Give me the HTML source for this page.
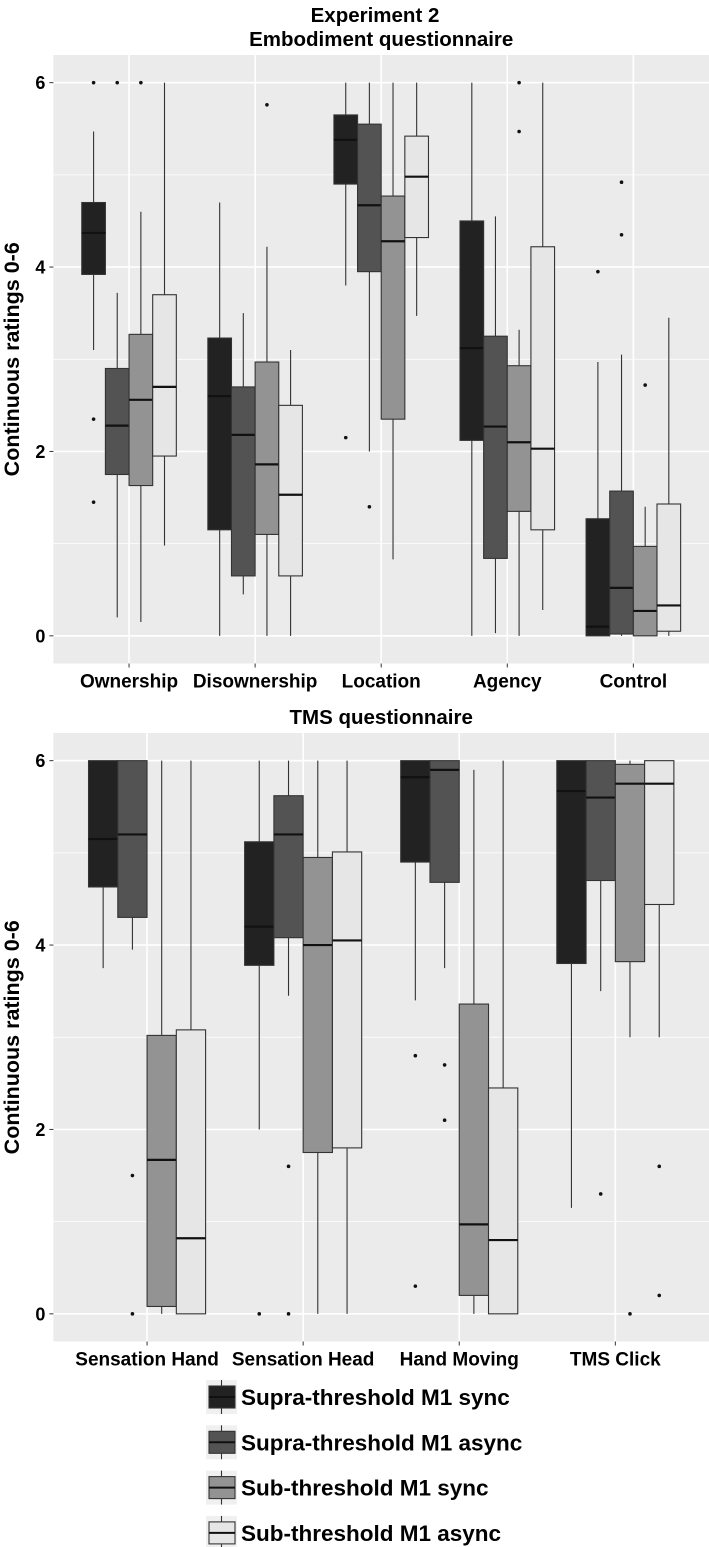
<!DOCTYPE html>
<html><head><meta charset="utf-8"><style>
html,body{margin:0;padding:0;background:#fff;}
svg{display:block;font-family:"Liberation Sans",Arial,sans-serif;font-weight:bold;}
</style></head><body>
<svg id="chart" width="709" height="1547" viewBox="0 0 709 1547" xmlns="http://www.w3.org/2000/svg">
<text x="375" y="22" text-anchor="middle" font-size="20.5">Experiment 2</text>
</svg>
<script>
const groups = ["Supra-threshold M1 sync","Supra-threshold M1 async","Sub-threshold M1 sync","Sub-threshold M1 async"];
const fills = ["#222222","#535353","#939393","#e6e6e6"];
const yTicks = [0,2,4,6];
const embCategories = ["Ownership","Disownership","Location","Agency","Control"];
// each box: [whiskerLow, q1, median, q3, whiskerHigh]
const embSupraSync  = [[3.1,3.92,4.37,4.7,5.47],[0,1.15,2.6,3.23,4.7],[3.8,4.9,5.38,5.65,6],[0,2.12,3.12,4.5,6],[0,0,0.1,1.27,2.97]];
const embSupraAsync = [[0.2,1.75,2.28,2.9,3.72],[0.45,0.65,2.18,2.7,3.5],[2.0,3.95,4.67,5.55,6],[0.03,0.84,2.27,3.25,4.55],[0,0.02,0.52,1.57,3.05]];
const embSubSync    = [[0.15,1.63,2.56,3.27,4.6],[0,1.1,1.86,2.97,4.22],[0.83,2.35,4.28,4.77,6],[0,1.35,2.1,2.93,3.32],[0,0,0.27,0.97,1.4]];
const embSubAsync   = [[0.98,1.95,2.7,3.7,6],[0,0.65,1.53,2.5,3.1],[3.47,4.32,4.98,5.42,6],[0.28,1.15,2.03,4.22,6],[0,0.05,0.33,1.43,3.45]];
const embOutSupraSync  = [[6,2.35,1.45],[],[2.15],[],[3.95]];
const embOutSupraAsync = [[6],[],[1.4],[],[4.92,4.35]];
const embOutSubSync    = [[6],[5.76],[],[6,5.47],[2.72]];
const embOutSubAsync   = [[],[],[],[],[]];
const tmsCategories = ["Sensation Hand","Sensation Head","Hand Moving","TMS Click"];
const tmsSupraSync  = [[3.75,4.63,5.15,6,6],[2.0,3.78,4.2,5.12,6],[3.4,4.9,5.82,6,6],[1.15,3.8,5.67,6,6]];
const tmsSupraAsync = [[3.95,4.3,5.2,6,6],[3.45,4.08,5.2,5.62,6],[3.75,4.68,5.9,6,6],[3.5,4.7,5.6,6,6]];
const tmsSubSync    = [[0,0.08,1.67,3.02,6],[0,1.75,4.0,4.95,6],[0,0.2,0.97,3.36,5.9],[3.0,3.82,5.75,5.96,6]];
const tmsSubAsync   = [[0,0,0.82,3.08,6],[0,1.8,4.05,5.01,6],[0,0,0.8,2.45,6],[3.0,4.44,5.75,6,6]];
const tmsOutSupraSync  = [[],[0],[2.8,0.3],[]];
const tmsOutSupraAsync = [[1.5,0],[1.6,0],[2.7,2.1],[1.3]];
const tmsOutSubSync    = [[],[],[],[0]];
const tmsOutSubAsync   = [[],[],[],[1.6,0.2]];

const NS="http://www.w3.org/2000/svg";
const svg=document.getElementById('chart');
function mk(tag,attrs,parent){const e=document.createElementNS(NS,tag);for(const k in attrs)e.setAttribute(k,attrs[k]);(parent||svg).appendChild(e);return e;}

function panel(opt){
  const {name,title,top,bottom,left,right,cats,series,outs}=opt;
  const g=mk('g',{});
  
  
  const n=cats.length;
  const step=(right-left)/(n+0.2);
  const xPos=i=>left+step*(0.6+i);
  const y0=bottom-(bottom-top)*0.3/6.6, y6=top+(bottom-top)*0.3/6.6;
  const yPos=v=>y0-(y0-y6)*v/6;
  const t=mk('text',{x:(left+right)/2,y:top-9,'text-anchor':'middle','font-size':20.5},g);
  
  
  t.textContent=title;
  const bg=mk('rect',{x:left,y:top,width:right-left,height:bottom-top,fill:'#ebebeb'},g);
  
  
  for(let v=1;v<=5;v+=2){mk('line',{x1:left,x2:right,y1:yPos(v),y2:yPos(v),stroke:'#fff','stroke-width':0.8},g);}
  yTicks.forEach(v=>{
    const yy=yPos(v);
    const gl=mk('line',{x1:left,x2:right,y1:yy,y2:yy,stroke:'#fff','stroke-width':1.6},g);
    
    
    mk('line',{x1:left-4,x2:left,y1:yy,y2:yy,stroke:'#333','stroke-width':1},g);
    const tl=mk('text',{x:left-8,y:yy+6.5,'text-anchor':'end','font-size':18},g);
    
    
    tl.textContent=v;
  });
  cats.forEach((c,i)=>{
    const xx=xPos(i);
    mk('line',{x1:xx,x2:xx,y1:top,y2:bottom,stroke:'#fff','stroke-width':1.6},g);
    mk('line',{x1:xx,x2:xx,y1:bottom,y2:bottom+4,stroke:'#333','stroke-width':1},g);
    const xl=mk('text',{x:xx,y:bottom+24,'text-anchor':'middle','font-size':19},g);
    
    
    xl.textContent=c;
  });
  const bw=step*0.1875;
  series.forEach((s,si)=>{
    s.forEach((b,i)=>{
      const cx=xPos(i)+(si-1.5)*bw;
      const bg2=mk('g',{},g);
      
      
      mk('line',{x1:cx,x2:cx,y1:yPos(b[0]),y2:yPos(b[4]),stroke:'#333','stroke-width':1.1},bg2);
      mk('rect',{x:cx-bw/2,y:yPos(b[3]),width:bw,height:Math.max(0.5,yPos(b[1])-yPos(b[3])),fill:fills[si],stroke:'#333','stroke-width':1.1},bg2);
      mk('line',{x1:cx-bw/2,x2:cx+bw/2,y1:yPos(b[2]),y2:yPos(b[2]),stroke:'#111','stroke-width':2.2},bg2);
      outs[si][i].forEach(o=>{
        const d=mk('circle',{cx:cx,cy:yPos(o),r:1.8,fill:'#111'},bg2);
        
        
      });
    });
  });
  const yt=mk('text',{transform:`translate(19,${(top+bottom)/2}) rotate(-90)`,'text-anchor':'middle','font-size':21.5},g);
  
  
  yt.textContent='Continuous ratings 0-6';
}
panel({name:'embodiment-panel',title:'Embodiment questionnaire',top:55,bottom:663.5,left:53.4,right:709,cats:embCategories,
  series:[embSupraSync,embSupraAsync,embSubSync,embSubAsync],outs:[embOutSupraSync,embOutSupraAsync,embOutSubSync,embOutSubAsync]});
panel({name:'tms-panel',title:'TMS questionnaire',top:733,bottom:1341.5,left:53.4,right:709,cats:tmsCategories,
  series:[tmsSupraSync,tmsSupraAsync,tmsSubSync,tmsSubAsync],outs:[tmsOutSupraSync,tmsOutSupraAsync,tmsOutSubSync,tmsOutSubAsync]});

const lg=mk('g',{});


groups.forEach((gname,i)=>{
  const cy=1397+i*45.3;
  const e=mk('g',{},lg);
  
  
  mk('rect',{x:206,y:cy-17,width:31,height:34,fill:'#f0f0f0'},e);
  mk('line',{x1:221.5,x2:221.5,y1:cy-17,y2:cy+17,stroke:'#333','stroke-width':1.1},e);
  mk('rect',{x:209,y:cy-11,width:26,height:22,fill:fills[i],stroke:'#333','stroke-width':1.1},e);
  mk('line',{x1:209,x2:235,y1:cy,y2:cy,stroke:'#111','stroke-width':2},e);
  const tx=mk('text',{x:241,y:cy+8,'font-size':22.5},e);
  
  
  tx.textContent=gname;
});
</script>
</body></html>
